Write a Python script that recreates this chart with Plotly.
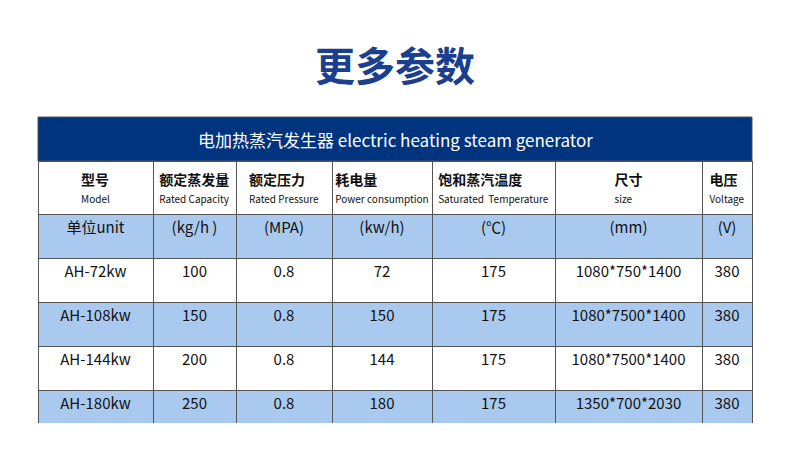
import plotly.graph_objects as go

head_cn = ['型号', '额定蒸发量', '额定压力', '耗电量', '饱和蒸汽温度', '尺寸', '电压']
head_en = ['Model', 'Rated Capacity', 'Rated Pressure', 'Power consumption',
           'Saturated  Temperature', 'size', 'Voltage']
units = ['单位unit', '(kg/h )', '(MPA)', '(kw/h)', '(℃)', '(mm)', '(V)']
models = ['AH-72kw', 'AH-108kw', 'AH-144kw', 'AH-180kw']
capacity = ['100', '150', '200', '250']
pressure = ['0.8', '0.8', '0.8', '0.8']
power = ['72', '150', '144', '180']
temp = ['175', '175', '175', '175']
size = ['1080*750*1400', '1080*7500*1400', '1080*7500*1400', '1350*700*2030']
voltage = ['380', '380', '380', '380']

W, H = 790, 466
off = 8  # page body margin
x0, x1 = 38 - off, 752 - off
col_w = [115, 83, 96, 100, 123, 147, 50]
dark = '#00347f'
light = '#a9c9ee'
line = '#555555'
font = 'Noto Sans CJK SC'


def py(px):
    return 1 - (px - off) / H


header_vals = ['<b>%s</b><br><span style="font-size:10px">%s</span>' % (c, e)
               for c, e in zip(head_cn, head_en)]
data_cols = [models, capacity, pressure, power, temp, size, voltage]
cell_vals = [[u] + col for u, col in zip(units, data_cols)]
row_fill = [light, 'white', light, 'white', light]

fig = go.Figure(go.Table(
    domain=dict(x=[x0 / W, x1 / W], y=[py(423), py(161)]),
    columnwidth=col_w,
    header=dict(values=header_vals, fill_color='white', height=43,
                line=dict(color=line, width=1), align='center',
                font=dict(family=font, size=14, color='#111')),
    cells=dict(values=cell_vals, fill_color=[row_fill] * 7, height=44,
               line=dict(color=line, width=1), align='center',
               font=dict(family=font, size=15, color='#111')),
))

fig.add_shape(type='rect', xref='paper', yref='paper',
              x0=x0 / W, x1=x1 / W, y0=py(161), y1=py(117),
              fillcolor=dark, line=dict(color=line, width=1))
fig.add_annotation(x=(x0 + x1) / 2 / W, y=py(139), xref='paper', yref='paper',
                   yanchor='middle', xanchor='center',
                   text='电加热蒸汽发生器 electric heating steam generator', showarrow=False,
                   font=dict(family=font, size=17, color='white'))
fig.add_annotation(x=(395 - off) / W, y=py(64), xref='paper', yref='paper',
                   yanchor='middle', xanchor='center',
                   text='<b>更多参数</b>', showarrow=False,
                   font=dict(family=font, size=40, color='#1b3f8e'))

fig.update_layout(width=W, height=H, margin=dict(l=0, r=0, t=0, b=0),
                  paper_bgcolor='white', plot_bgcolor='white')
fig.write_html('out.html')
